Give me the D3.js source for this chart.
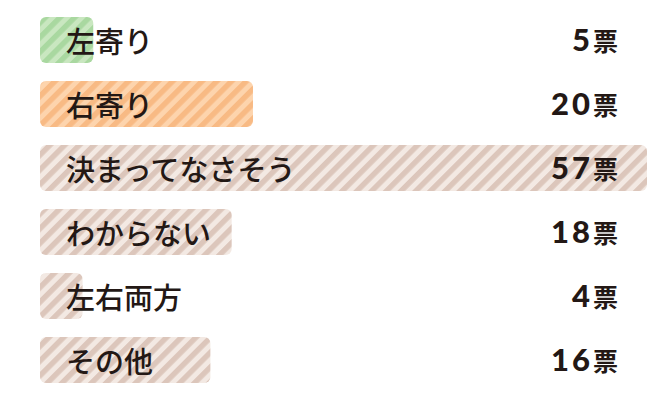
<!DOCTYPE html>
<html>
<head>
<meta charset="utf-8">
<script src="https://cdn.jsdelivr.net/npm/d3@7"></script>
<style>
  body { margin: 0; background: #fff; }
  svg { display: block; }
</style>
</head>
<body>
<svg id="chart" width="653" height="409"></svg>
<script>
// data
const categories = ["左寄り", "右寄り", "決まってなさそう", "わからない", "左右両方", "その他"];
const votes = [5, 20, 57, 18, 4, 16];
const unit = "票";
const colorKeys = ["green", "orange", "brown", "brown", "brown", "brown"];

const stripes = {
  green: ["#c9e7c0", "#a9d8a0"],
  orange: ["#fdd4ad", "#f8ba84"],
  brown: ["#f3e9e3", "#dcc6bb"]
};

const svg = d3.select("#chart");

const defs = svg.append("defs");
Object.keys(stripes).forEach(key => {
  const p = defs.append("pattern")
    .attr("id", "stripe-" + key)
    .attr("patternUnits", "userSpaceOnUse")
    .attr("width", 10.4)
    .attr("height", 10.4)
    .attr("patternTransform", "rotate(45)");
  p.append("rect").attr("width", 10.4).attr("height", 10.4).attr("fill", stripes[key][0]);
  p.append("rect").attr("width", 5.4).attr("height", 10.4).attr("fill", stripes[key][1]);
});

const xScale = d3.scaleLinear()
  .domain([0, 57])
  .range([40, 647]);

const yScale = d3.scaleBand()
  .domain(categories)
  .range([8, 392])
  .paddingInner(0.28)
  .paddingOuter(0.14);

const rows = svg.selectAll("g.row")
  .data(categories)
  .enter()
  .append("g")
  .attr("class", "row");

rows.append("rect")
  .attr("x", xScale(0))
  .attr("y", d => yScale(d))
  .attr("width", (d, i) => xScale(votes[i]) - xScale(0))
  .attr("height", yScale.bandwidth())
  .attr("rx", 6)
  .attr("fill", (d, i) => `url(#stripe-${colorKeys[i]})`);

rows.append("text")
  .attr("x", 66)
  .attr("y", d => yScale(d) + yScale.bandwidth() / 2)
  .attr("dominant-baseline", "central")
  .style("font-family", "'Noto Sans CJK JP', sans-serif")
  .style("font-weight", 500)
  .style("font-size", "29px")
  .style("fill", "#231815")
  .text(d => d);

const vals = rows.append("text")
  .attr("x", 618)
  .attr("y", d => yScale(d) + yScale.bandwidth() / 2 + 11)
  .attr("text-anchor", "end")
  .style("fill", "#231815");

vals.append("tspan")
  .style("font-family", "Lato, sans-serif")
  .style("font-weight", 900)
  .style("font-size", "31px")
  .style("letter-spacing", "3px")
  .text((d, i) => votes[i]);

vals.append("tspan")
  .attr("dx", 0)
  .style("font-family", "'Noto Sans CJK JP', sans-serif")
  .style("font-weight", 700)
  .style("font-size", "25px")
  .text(unit);
</script>
</body>
</html>
